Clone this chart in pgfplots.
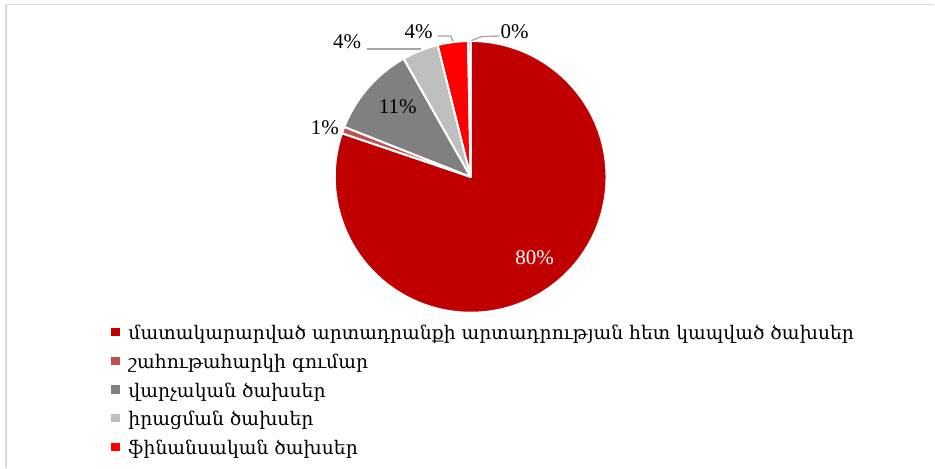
\documentclass[border=0pt]{standalone}
\usepackage{pgfplots}
\pgfplotsset{compat=1.18}
\usepackage{pgfplotstable}
\usepackage{fontspec}
\setmainfont{Liberation Serif}
\newfontfamily\armfont{DejaVu Serif}

\definecolor{c1}{HTML}{C00000}
\definecolor{c2}{HTML}{C0504D}
\definecolor{c3}{HTML}{808080}
\definecolor{c4}{HTML}{BFBFBF}
\definecolor{c5}{HTML}{FF0000}
\definecolor{c6}{HTML}{7F7F7F}
\definecolor{bordergray}{HTML}{D9D9D9}
\definecolor{leadergray}{HTML}{A6A6A6}

% share of each item, percent
\pgfplotstableread{
v c
80.2 c1
0.8 c2
10.8 c3
4.3 c4
3.6 c5
0.3 c6
}\piedata

% cumulative angles (clockwise from 12 o'clock)
\def\cum{90}
\pgfplotsforeachungrouped \i in {0,...,5}{%
  \pgfplotstablegetelem{\i}{v}\of\piedata \let\val\pgfplotsretval
  \pgfplotstablegetelem{\i}{c}\of\piedata \let\col\pgfplotsretval
  \pgfmathsetmacro\endang{\cum-3.6*\val}%
  \expandafter\xdef\csname sA\i\endcsname{\cum}%
  \expandafter\xdef\csname sB\i\endcsname{\endang}%
  \expandafter\xdef\csname sC\i\endcsname{\col}%
  \global\let\cum\endang
}

\begin{document}
\begin{tikzpicture}
\begin{axis}[
  hide axis, x=1pt, y=1pt, scale only axis,
  xmin=-471, xmax=464, ymin=-291, ymax=177,
  clip=false,
  legend style={draw=none, fill=none, at={(axis cs:-363,-148)}, anchor=north west,
    font=\armfont\fontsize{18.75}{20}\selectfont, row sep=11.7pt,
    nodes={inner sep=0pt, text height=13pt, text depth=4pt},
    column sep=0pt},
  legend cell align=left,
  legend image code/.code={\fill[#1, draw=none] (0pt,-1pt) rectangle (8.5pt,7.5pt); \path (0pt,0pt) (17pt,0pt);},
]
\path (axis cs:-471,-291) rectangle (axis cs:464,177);
\draw[bordergray, line width=1.5pt] (axis cs:-465,-291) -- (axis cs:-465,172.5) -- (axis cs:464,172.5);

\pgfplotsinvokeforeach{0,...,5}{%
  \edef\temp{\noexpand\filldraw[fill=\csname sC#1\endcsname, draw=white, line width=2pt, line join=round]
    (axis cs:0,0) -- (axis cs:{136*cos(\csname sA#1\endcsname)},{136*sin(\csname sA#1\endcsname)})
    arc[start angle=\csname sA#1\endcsname, end angle=\csname sB#1\endcsname, radius=136pt] -- cycle;}%
  \temp
}

% leader lines
\draw[leadergray, line width=1.3pt] (axis cs:-104,128) -- (axis cs:-50,128);
\draw[leadergray, line width=1.3pt] (axis cs:-33,141) -- (axis cs:-20,141) -- (axis cs:-17.5,135.5);
\draw[leadergray, line width=1.3pt] (axis cs:0.7,136.3) -- (axis cs:10.7,140.3) -- (axis cs:29,141);

% data labels
\begin{scope}[every node/.style={font=\fontsize{21}{23}\selectfont, inner sep=0pt}]
\node[white] at (axis cs:64,-81) {80\%};
\node at (axis cs:-73,70) {11\%};
\node at (axis cs:-146,49) {1\%};
\node at (axis cs:-123.5,135) {4\%};
\node at (axis cs:-52,145) {4\%};
\node at (axis cs:44,145) {0\%};
\end{scope}

\addlegendimage{fill=c1}
\addlegendentry{մատակարարված արտադրանքի արտադրության հետ կապված ծախսեր}
\addlegendimage{fill=c2}
\addlegendentry{շահութահարկի գումար}
\addlegendimage{fill=c3}
\addlegendentry{վարչական ծախսեր}
\addlegendimage{fill=c4}
\addlegendentry{իրացման ծախսեր}
\addlegendimage{fill=c5}
\addlegendentry{ֆինանսական ծախսեր}
\end{axis}
\end{tikzpicture}
\end{document}
